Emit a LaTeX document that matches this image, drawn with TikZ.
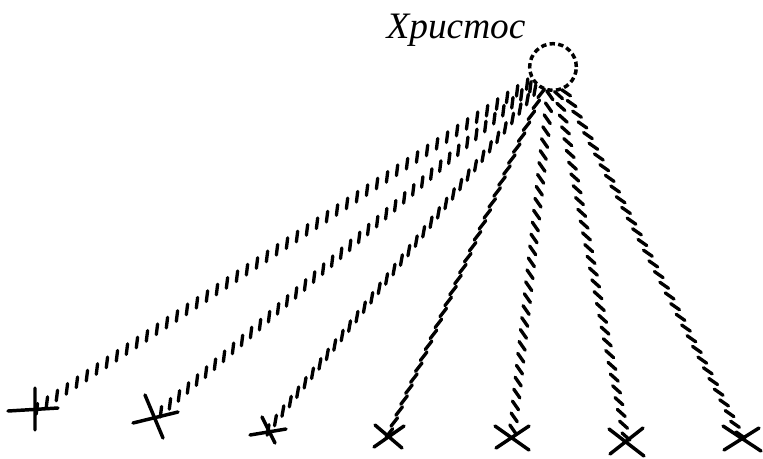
\documentclass[tikz,border=0pt]{standalone}
\usepackage{fontspec}
\setmainfont{Liberation Serif}
\usetikzlibrary{decorations.markings}

\tikzset{
  hatch/.style={postaction={decorate}, decoration={markings,
      mark=between positions 0.01 and 1 step 9pt with {\pgftransformresetnontranslations
        \draw[line width=2.5pt, line cap=round] (#1:-4pt) -- (#1:4pt);}}},
  crossmark/.style={line width=2.6pt, line cap=round}
}

\begin{document}
\begin{tikzpicture}[x=0.75pt, y=-0.75pt]
  \useasboundingbox (0,0) rectangle (763,458);

  % Christ
  \node[font=\itshape\fontsize{28}{30}\selectfont, anchor=base] (name) at (456,38) {Христос};
  \node[draw, circle, minimum size=35pt, inner sep=0pt, line width=2.6pt, dash pattern=on 4pt off 2.5pt] (ch) at (553,67) {};

  % the crosses
  \coordinate (k1) at (35,410);
  \coordinate (k2) at (155,417);
  \coordinate (k3) at (268,430);
  \coordinate (k4) at (388,436);
  \coordinate (k5) at (512,437);
  \coordinate (k6) at (627,442);
  \coordinate (k7) at (742,438);

  \draw[crossmark] (k1) ++(-27,1) -- ++(50,-3)  (k1) ++(0,-22) -- ++(0,42);
  \draw[crossmark] (k2) ++(-22,6) -- ++(45,-11)  (k2) ++(-10,-22) -- ++(18,43);
  \draw[crossmark] (k3) ++(-18,5) -- ++(36,-6)  (k3) ++(-6,-13) -- ++(13,26);
  \draw[crossmark] (k4) ++(-13,-11) -- ++(27,23)  (k4) ++(-14,11) -- ++(30,-21);
  \draw[crossmark] (k5) ++(-17,-11) -- ++(34,24)  (k5) ++(-16,11) -- ++(33,-22);
  \draw[crossmark] (k6) ++(-18,-13) -- ++(35,27)  (k6) ++(-17,12) -- ++(33,-26);
  \draw[crossmark] (k7) ++(-19,-12) -- ++(38,25)  (k7) ++(-18,12) -- ++(35,-22);

  % hatched rays
  \foreach \k/\a in {k1/83, k2/83, k3/80, k4/52, k5/-55, k6/-42, k7/-35}
    \path[hatch=\a] (ch) -- (\k);
\end{tikzpicture}
\end{document}
